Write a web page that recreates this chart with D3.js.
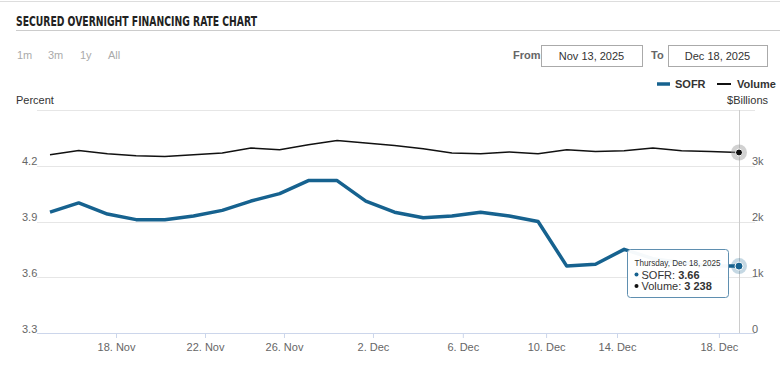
<!DOCTYPE html>
<html>
<head>
<meta charset="utf-8">
<script src="https://cdn.jsdelivr.net/npm/d3@7"></script>
<style>
  body { margin: 0; background: #fff; }
  svg { display: block; font-family: "Liberation Sans", Arial, sans-serif; }
</style>
</head>
<body>
<svg id="chart" width="780" height="379"></svg>
<script>
// Données (jours ouvrés, 13 nov. - 18 déc. 2025)
const dates = ["Nov 13", "Nov 14", "Nov 17", "Nov 18", "Nov 19", "Nov 20", "Nov 21", "Nov 24",
  "Nov 25", "Nov 26", "Nov 28", "Dec 1", "Dec 2", "Dec 3", "Dec 4", "Dec 5", "Dec 8", "Dec 9",
  "Dec 10", "Dec 11", "Dec 12", "Dec 15", "Dec 16", "Dec 17", "Dec 18"];
const sofr = [3.95, 4.00, 3.94, 3.91, 3.91, 3.93, 3.96, 4.01, 4.05, 4.12, 4.12, 4.01, 3.95,
  3.92, 3.93, 3.95, 3.93, 3.90, 3.66, 3.67, 3.75, 3.70, 3.68, 3.66, 3.66];
const volume = [3197, 3275, 3215, 3180, 3167, 3197, 3228, 3318, 3287, 3377, 3454, 3407, 3365,
  3305, 3228, 3215, 3246, 3215, 3287, 3257, 3269, 3318, 3269, 3257, 3238];
const xTickLabels = ["18. Nov", "22. Nov", "26. Nov", "2. Dec", "6. Dec", "10. Dec", "14. Dec", "18. Dec"];
const xTickPos = [2.3, 5.4, 8.15, 11.25, 14.38, 17.28, 19.75, 23.3]; // axe ordinal
const rateTicks = [3.3, 3.6, 3.9, 4.2, 4.5];
const volTicks = [0, 1000, 2000, 3000];
const rangeButtons = ["1m", "3m", "1y", "All"];

const svg = d3.select("#chart");
const blue = "#16628f";

// Échelles
const x = d3.scaleLinear().domain([0, dates.length - 1]).range([50, 739]);
const y = d3.scaleLinear().domain([3.3, 4.5]).range([333, 110]);
const y2 = d3.scaleLinear().domain([0, 4000]).range([333, 110]);

// En-tête
svg.append("line").attr("x1", 0).attr("x2", 780).attr("y1", 1.5).attr("y2", 1.5)
  .attr("stroke", "#ddd");
svg.append("text").attr("x", 16).attr("y", 26)
  .attr("font-family", "'Liberation Sans Narrow', 'DejaVu Sans Condensed', sans-serif")
  .attr("font-size", 14).attr("font-weight", "bold").attr("fill", "#222")
  .attr("textLength", 241).attr("lengthAdjust", "spacingAndGlyphs")
  .text("SECURED OVERNIGHT FINANCING RATE CHART");
svg.append("line").attr("x1", 16).attr("x2", 780).attr("y1", 30.5).attr("y2", 30.5)
  .attr("stroke", "#ccc");

svg.append("g").selectAll("text").data(rangeButtons).join("text")
  .attr("x", (d, i) => [17, 48, 80, 108][i]).attr("y", 59)
  .attr("font-size", 11).attr("fill", "#aaa").text(d => d);

// Sélecteur de dates
const inputs = [{ label: "From", lx: 513, bx: 541, bw: 101, v: "Nov 13, 2025" },
  { label: "To", lx: 651, bx: 668, bw: 99, v: "Dec 18, 2025" }];
inputs.forEach(d => {
  svg.append("text").attr("x", d.lx).attr("y", 59).attr("font-size", 11)
    .attr("font-weight", "bold").attr("fill", "#666").text(d.label);
  svg.append("rect").attr("x", d.bx + 0.5).attr("y", 45.5).attr("width", d.bw).attr("height", 21)
    .attr("fill", "#fff").attr("stroke", "#aaa");
  svg.append("text").attr("x", d.bx + d.bw / 2).attr("y", 59.5).attr("text-anchor", "middle")
    .attr("font-size", 11).attr("fill", "#333").text(d.v);
});

// Légende
svg.append("line").attr("x1", 657).attr("x2", 670).attr("y1", 84).attr("y2", 84)
  .attr("stroke", blue).attr("stroke-width", 3.5);
svg.append("text").attr("x", 675).attr("y", 88).attr("font-size", 11).attr("font-weight", "bold")
  .attr("fill", "#333").text("SOFR");
svg.append("line").attr("x1", 717).attr("x2", 731).attr("y1", 84).attr("y2", 84)
  .attr("stroke", "#111").attr("stroke-width", 2);
svg.append("text").attr("x", 737).attr("y", 88).attr("font-size", 11).attr("font-weight", "bold")
  .attr("fill", "#333").text("Volume");

svg.append("text").attr("x", 16).attr("y", 104).attr("font-size", 11).attr("fill", "#333")
  .text("Percent");
svg.append("text").attr("x", 768).attr("y", 104).attr("text-anchor", "end").attr("font-size", 11)
  .attr("fill", "#333").text("$Billions");

// Grille
svg.append("g").selectAll("line").data(rateTicks.slice(1)).join("line")
  .attr("x1", 37).attr("x2", 755)
  .attr("y1", d => Math.round(y(d)) + 0.5).attr("y2", d => Math.round(y(d)) + 0.5)
  .attr("stroke", "#e6e6e6");

// Axe gauche
svg.append("g").selectAll("text").data(rateTicks.slice(0, 4)).join("text")
  .attr("x", 22).attr("y", d => y(d) - 0.5).attr("font-size", 11).attr("fill", "#666")
  .text(d3.format(".1f"));

// Axe droit
svg.append("g").selectAll("text").data(volTicks).join("text")
  .attr("x", 752).attr("y", d => y2(d) - 0.5).attr("font-size", 11).attr("fill", "#666")
  .text(d => d === 0 ? "0" : d / 1000 + "k");

// Axe X
const xAxis = svg.append("g").attr("transform", "translate(0,333)")
  .call(d3.axisBottom(x).tickValues(xTickPos).tickSize(5)
    .tickFormat((d, i) => xTickLabels[i]));
xAxis.select(".domain").attr("d", "M37,0.5H755").attr("stroke", "#ccd6eb");
xAxis.selectAll(".tick line").attr("stroke", "#ccd6eb");
xAxis.selectAll(".tick text").attr("font-size", 11).attr("fill", "#666")
  .attr("font-family", "'Liberation Sans', Arial, sans-serif").attr("dy", "0.9em");

// Réticule
svg.append("line").attr("x1", x(24) + 0.5).attr("x2", x(24) + 0.5).attr("y1", 110).attr("y2", 333)
  .attr("stroke", "#ccc");

// Courbes
const idx = d3.range(dates.length);
svg.append("path").datum(idx)
  .attr("d", d3.line().x(i => x(i)).y(i => y2(volume[i])))
  .attr("fill", "none").attr("stroke", "#111").attr("stroke-width", 1.5);
svg.append("path").datum(idx)
  .attr("d", d3.line().x(i => x(i)).y(i => y(sofr[i])))
  .attr("fill", "none").attr("stroke", blue).attr("stroke-width", 3.5)
  .attr("stroke-linejoin", "round");

// Points survolés
const last = dates.length - 1;
svg.append("circle").attr("cx", x(last)).attr("cy", y2(volume[last])).attr("r", 8)
  .attr("fill", "#999").attr("opacity", 0.45);
svg.append("circle").attr("cx", x(last)).attr("cy", y2(volume[last])).attr("r", 3.5)
  .attr("fill", "#111").attr("stroke", "#fff").attr("stroke-width", 1);
svg.append("circle").attr("cx", x(last)).attr("cy", y(sofr[last])).attr("r", 8)
  .attr("fill", blue).attr("opacity", 0.25);
svg.append("circle").attr("cx", x(last)).attr("cy", y(sofr[last])).attr("r", 4)
  .attr("fill", blue).attr("stroke", "#fff").attr("stroke-width", 1);

// Infobulle
const tip = svg.append("g").attr("transform", "translate(627.5,249.5)");
tip.append("rect").attr("width", 101).attr("height", 48).attr("rx", 3)
  .attr("fill", "rgba(255,255,255,0.96)").attr("stroke", "#5f8fb0").attr("stroke-width", 1);
tip.append("text").attr("x", 7).attr("y", 16).attr("font-size", 9.5).attr("fill", "#333")
  .attr("textLength", 86).attr("lengthAdjust", "spacingAndGlyphs")
  .text("Thursday, " + dates[last] + ", 2025");
[["SOFR", sofr[last].toFixed(2), blue], ["Volume", d3.format(",")(volume[last]).replace(",", " "), "#111"]]
  .forEach((d, i) => {
    tip.append("circle").attr("cx", 9).attr("cy", 25 + i * 11.5).attr("r", 2).attr("fill", d[2]);
    const t = tip.append("text").attr("x", 14).attr("y", 29 + i * 11.5).attr("font-size", 11)
      .attr("fill", "#333");
    t.append("tspan").text(d[0] + ": ");
    t.append("tspan").attr("font-weight", "bold").text(d[1]);
  });
</script>
</body>
</html>
